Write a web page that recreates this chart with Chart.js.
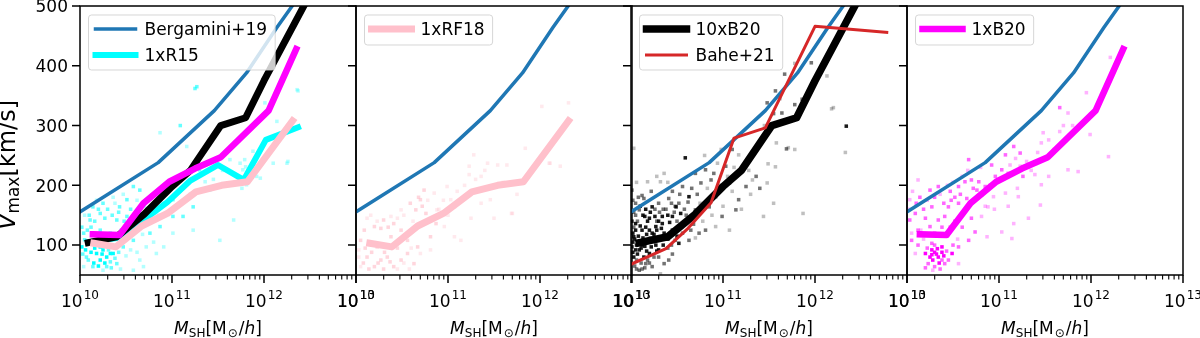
<!DOCTYPE html>
<html>
<head>
<meta charset="utf-8">
<script src="https://cdn.jsdelivr.net/npm/chart.js@4.4.1/dist/chart.umd.min.js"></script>
<style>
  html, body { margin: 0; padding: 0; background: #fff; }
  #wrap { position: relative; width: 1200px; height: 338px; }
  #wrap canvas { position: absolute; left: 0; top: 0; }
</style>
</head>
<body>
<div id="wrap"></div>
<script>
// masses are log10(M_SH / [Msun/h]), velocities are Vmax in km/s
const yTicks = [100, 200, 300, 400, 500];
const xDecades = [10, 11, 12, 13];

const bergM = [9.9, 10.85, 11.46, 11.81, 12.14, 12.5];
const bergV = [146, 238, 325, 388, 464, 542];

const b20x10M = [10.09, 10.40, 10.70, 11.0, 11.2, 11.53, 11.80, 12.0, 12.45];
const b20x10V = [104, 114, 152, 198, 225, 300, 313, 375, 505];

const b20x1M = [10.14, 10.43, 10.69, 10.97, 11.25, 11.53, 12.05, 12.35];
const b20x1V = [118, 117, 170, 206, 228, 247, 325, 428];

const r15M = [10.09, 10.40, 10.70, 10.95, 11.2, 11.5, 11.78, 12.02, 12.37];
const r15V = [105, 112, 143, 172, 208, 234, 209, 276, 297];

const rf18M = [10.15, 10.39, 10.67, 10.95, 11.26, 11.54, 11.82, 12.31];
const rf18V = [103, 97, 132, 153, 189, 200, 206, 308];

const baheM = [10.0, 10.38, 10.62, 10.87, 11.12, 11.46, 12.0, 12.78];
const baheV = [68, 94, 128, 171, 279, 296, 466, 456];

// histogram cells: [log10 M, Vmax, count level 1..3]
const r15Cells = [
  [11.27,365,2],[11.25,362,2],[12.36,360,1],[11.09,300,2],[10.87,288,1],[11.16,265,1],[11.63,243,1],
  [11.74,237,1],[11.80,231,1],[11.92,215,1],[11.30,226,2],[11.36,206,1],[11.41,192,1],[11.67,142,1],
  [11.23,125,1],[11.01,176,2],[10.83,187,2],[10.65,192,2],[10.58,198,2],[10.51,176,2],[10.43,164,2],
  [10.22,153,2],[10.11,142,2],[10.04,120,2],[10.02,97,3],[10.07,80,2],[10.18,86,3],[10.22,75,3],
  [10.29,64,2],[10.36,86,3],[10.40,69,2],[10.47,97,2],[10.58,108,2],[10.65,75,1],[10.69,64,1],
  [10.76,120,2],[10.87,131,2],[10.91,97,1],[11.01,120,1],[11.12,148,2],[11.23,164,2],[11.01,148,2],
  [10.22,125,2],[10.33,120,2],[10.25,170,2],[10.14,164,2],[10.51,148,2],[10.65,153,2],[10.80,164,2],
  [10.40,142,2],[10.05,109,2],[10.14,64,2],[10.25,58,1],[10.58,58,1],[11.52,108,1],[12.10,237,1],
  [12.25,237,1],[10.04,64,1],[10.45,125,2],[10.22,97,3],[10.33,86,3],[10.72,97,1],[10.83,86,1],
  [12.37,358,1],[12.01,338,1],[12.14,307,1],[12.26,240,1],[11.96,212,1],[11.88,257,1],[11.79,243,1],
  [11.77,226,1],[11.81,201,1],[11.76,195,1],[10.25,92,3],[10.29,80,3],[10.33,72,2],[10.18,100,2],
  [10.29,103,2],[10.12,130,2],[10.36,180,1],[10.47,185,1],[10.18,175,1],
  [10.03,85,2],[10.06,92,3],[10.09,75,2],[10.12,88,3],[10.15,70,3],[10.16,95,3],[10.20,65,3],
  [10.24,85,3],[10.27,70,3],[10.31,92,2],[10.34,62,2],[10.38,78,2],[10.42,88,2],[10.44,60,1],
  [10.50,82,1],[10.55,92,1],[10.62,88,1],[10.10,150,2],[10.16,140,2],[10.20,160,2],[10.27,145,2],
  [10.30,160,2],[10.35,150,2],[10.38,170,1],[10.42,155,2],[10.48,140,2],[10.55,160,2],[10.60,145,2],
  [10.62,175,1],[10.70,165,1],[10.75,150,1],[10.85,150,1],[10.90,170,1],[10.95,155,1],[10.05,150,1],
  [10.02,130,2],[10.08,125,2],[10.55,120,1],[10.68,118,1],[10.80,105,1],[11.10,195,1],[11.20,185,1],
  [11.45,210,1],[11.55,225,1],[11.60,200,1]
];

const rf18Cells = [
  [11.28,251,1],[11.84,262,1],[12.10,237,1],[11.64,234,1],[11.54,234,1],[11.36,215,1],[11.23,218,1],
  [11.14,176,1],[11.07,164,1],[11.36,170,1],[11.46,176,1],[11.70,153,1],[11.50,145,1],[11.25,145,1],
  [10.74,192,2],[10.85,187,1],[10.70,176,2],[10.65,159,2],[10.59,170,2],[10.76,153,2],[10.87,136,2],
  [11.03,176,1],[10.96,131,1],[11.07,114,1],[11.14,108,1],[10.81,114,2],[10.67,97,2],[10.56,108,2],
  [10.49,125,2],[10.38,114,2],[10.27,128,2],[10.20,131,2],[10.30,142,2],[10.41,136,2],[10.12,145,1],
  [10.09,125,2],[10.05,108,2],[10.12,80,2],[10.20,64,2],[10.27,75,2],[10.34,80,2],[10.41,64,2],
  [10.49,75,2],[10.56,86,2],[10.63,69,2],[10.70,86,1],[10.81,92,1],[10.34,97,2],[10.23,97,2],
  [10.03,92,1],[10.05,64,1],[10.88,159,1],[10.99,198,1],[11.43,237,1],[11.23,232,1],[10.49,159,1],
  [10.38,148,1],[12.02,332,1],[12.31,338,1],[12.22,232,1],[12.11,237,1],[11.69,153,1],
  [10.03,80,1],[10.08,70,2],[10.10,95,2],[10.14,60,2],[10.17,88,2],[10.24,70,2],[10.30,60,2],
  [10.31,88,2],[10.37,72,2],[10.45,60,1],[10.45,95,2],[10.52,70,1],[10.58,60,1],[10.60,95,1],
  [10.16,150,1],[10.23,140,1],[10.35,130,2],[10.45,145,1],[10.52,150,1],[10.62,140,1],[10.68,180,2],
  [10.72,165,2],[10.78,175,1],[10.90,160,1],[10.95,175,1],[11.00,150,1],[11.10,190,1],[11.18,200,1],
  [11.30,210,1],[11.40,225,1],[11.60,205,1],[11.75,185,1]
];

const b20x10Cells = [
  [10.59,246,3],[10.03,262,1],[10.01,192,2],[10.18,206,1],[10.32,206,1],[10.14,178,2],[10.41,178,2],
  [10.23,164,3],[10.09,159,2],[10.56,198,2],[10.70,220,2],[10.81,226,2],[10.87,209,2],[10.76,204,2],
  [10.63,181,3],[10.49,164,3],[10.54,153,3],[10.70,159,2],[10.34,148,3],[10.20,145,3],[10.05,136,3],
  [10.12,125,3],[10.27,131,3],[10.03,114,3],[10.01,97,3],[10.09,92,3],[10.20,86,3],[10.30,92,3],
  [10.16,69,2],[10.09,58,2],[10.23,64,2],[10.41,75,2],[10.52,103,3],[10.63,108,2],[10.74,120,2],
  [10.81,125,2],[10.92,131,1],[10.99,148,2],[11.07,125,1],[11.14,159,2],[11.17,176,2],[11.25,198,2],
  [11.32,209,1],[11.36,215,2],[11.07,204,2],[11.03,232,2],[10.94,237,1],[11.10,260,2],[11.17,251,1],
  [11.23,232,2],[10.92,181,2],[10.85,164,2],[10.45,125,3],[10.38,114,3],[10.23,108,3],[10.14,108,3],
  [10.34,136,3],[10.45,148,3],[10.59,136,2],[10.67,148,2],[10.20,125,3],[10.05,125,3],[10.25,80,2],
  [10.36,69,2],[10.32,52,1],[11.67,386,2],[11.96,405,2],[11.78,404,1],[11.57,358,2],[11.48,338,2],
  [11.64,321,2],[11.78,335,2],[11.86,344,2],[12.13,383,1],[12.18,328,1],[12.34,299,3],[11.58,271,1],
  [11.69,261,2],[11.78,260,1],[12.33,255,1],[11.49,236,1],[11.57,231,1],[11.40,195,2],[11.48,204,1],
  [11.55,170,1],[11.44,148,1],[11.87,153,1],[11.71,263,1],[12.20,330,1],[10.12,100,3],[10.27,100,3],
  [10.05,150,2],[10.16,160,3],[10.30,170,2],[10.45,190,2],[10.36,120,3],[10.48,108,2],[10.56,120,2],
  [10.03,80,3],[10.14,80,3],[10.40,95,2],
  [10.02,105,3],[10.04,110,3],[10.06,100,3],[10.08,115,3],[10.10,105,3],[10.02,88,3],[10.05,92,3],
  [10.07,85,3],[10.11,95,3],[10.13,112,3],[10.15,98,3],[10.17,118,3],[10.19,105,3],[10.21,112,2],
  [10.03,130,2],[10.07,140,2],[10.10,132,3],[10.02,120,3],[10.06,75,2],[10.11,70,2],[10.04,65,2],
  [10.18,75,2],[10.25,118,3],[10.28,140,2],[10.31,155,2],[10.33,128,3],[10.38,160,2],[10.42,138,3],
  [10.44,170,2],[10.47,155,2],[10.50,140,2],[10.53,185,2],[10.58,160,2],[10.60,150,2],[10.62,172,2],
  [10.66,195,2],[10.68,135,2],[10.72,185,2],[10.75,170,1],[10.78,140,1],[10.83,195,1],[10.88,150,1],
  [10.90,220,2],[10.96,200,1],[11.00,165,1],[11.05,215,1],[11.10,190,1],[11.20,160,1],[11.28,225,1],
  [11.30,185,1],[11.12,230,1],[10.98,260,1],[10.80,250,1],[10.12,183,2],[10.22,190,2],[10.28,215,1],
  [10.06,205,1],[10.40,205,1],[10.36,220,1],[10.02,175,2],[10.15,148,3],[10.26,148,3],[10.32,110,3],
  [10.44,100,2],[10.50,115,3],[10.55,130,2],[10.65,125,2],[10.70,112,1],[10.30,80,2],[10.45,85,2],
  [10.12,60,2],[11.55,320,2],[11.62,345,1],[11.45,300,1],
  [10.01,140,3],[10.03,155,2],[10.05,170,2],[10.08,180,2],[10.10,165,3],[10.13,150,3],[10.16,130,3],
  [10.18,140,3],[10.21,155,3],[10.23,120,3],[10.26,160,2],[10.28,125,3],[10.30,140,3],[10.35,160,2],
  [10.40,150,3],[10.43,120,2],[10.48,165,2],[10.52,170,2],[10.06,60,2],[10.15,62,2],[10.20,70,2],
  [10.28,90,3],[10.35,100,3],[10.40,110,3],[10.22,97,3],[10.17,90,3]
];

const b20x1Cells = [
  [11.66,330,2],[11.75,321,1],[11.99,285,1],[12.19,248,1],[11.86,223,1],[11.75,226,1],[11.48,288,1],
  [11.54,276,1],[11.66,290,1],[11.46,271,1],[11.16,265,2],[11.23,254,2],[11.07,251,2],[10.67,243,2],
  [10.92,234,2],[11.12,234,1],[11.23,232,1],[11.03,226,2],[11.39,218,1],[11.54,215,1],[11.26,215,2],
  [10.96,215,2],[10.78,206,2],[10.85,198,2],[10.70,209,2],[10.63,206,2],[10.56,198,2],[10.47,190,2],
  [10.34,198,2],[10.25,192,2],[10.12,209,1],[10.65,178,2],[10.81,184,2],[10.94,181,1],[11.07,187,1],
  [11.21,181,1],[11.46,201,1],[11.45,167,1],[11.32,145,1],[11.16,136,1],[11.03,122,1],[11.14,111,1],
  [10.87,114,1],[10.81,148,1],[10.88,164,1],[10.70,145,2],[10.74,122,2],[10.67,108,2],[10.56,97,2],
  [10.49,86,3],[10.34,80,3],[10.27,92,3],[10.20,86,3],[10.23,69,2],[10.30,64,2],[10.41,69,2],
  [10.56,69,1],[10.38,97,3],[10.27,103,2],[10.05,108,2],[10.09,86,1],[10.03,142,2],[10.09,153,2],
  [10.20,145,2],[10.34,142,2],[10.25,131,2],[10.12,125,2],[10.03,176,1],[10.27,164,2],[10.45,164,2],
  [10.56,170,2],[10.41,148,2],[10.76,192,2],[11.95,355,1],[12.21,414,1],[10.30,88,3],[10.38,75,2],
  [10.25,80,3],[10.28,75,3],[10.32,85,3],[10.35,70,3],[10.40,82,3],[10.43,90,2],[10.30,100,2],
  [10.22,95,2],[10.45,75,2],[10.36,60,2],[10.28,58,1],[10.50,100,2],[10.55,110,1],[10.60,130,2],
  [10.62,155,2],[10.52,140,2],[10.47,130,2],[10.58,185,2],[10.72,195,2],[10.80,230,1],[10.90,200,1],
  [11.00,210,1],[11.10,220,2],[11.18,245,1],[11.30,240,1],[11.35,225,1],[11.42,255,1],[11.60,260,1],
  [11.70,300,1],[11.80,300,1],[10.15,125,1],[10.10,170,2],[10.40,170,2],[10.48,175,2],[10.85,165,1],
  [10.95,160,1],[11.10,165,1],[11.20,195,1],[10.05,120,1],
  [10.02,160,1],[10.06,190,1],[10.14,180,2],[10.18,160,2],[10.22,175,1],[10.30,180,2],[10.36,185,1],
  [10.44,200,1],[10.50,205,1],[10.52,180,2],[10.60,215,1],[10.66,225,1],[10.38,130,2],[10.44,115,1],
  [10.30,120,2],[10.18,110,1],[10.12,100,2],[10.20,62,2],[10.33,94,3],[10.27,84,3],[10.38,88,3]
];

const panels = [
  {
    left: 80, cells: r15Cells, rgb: '0,255,255', alphas: [0.3, 0.6, 1], yLabels: true,
    lines: [
      { m: bergM, v: bergV, color: '#1f77b4', width: 3.5, label: 'Bergamini+19' },
      { m: r15M, v: r15V, color: '#00ffff', width: 6, label: '1xR15' },
      { m: b20x10M, v: b20x10V, color: '#000000', width: 7 },
      { m: b20x1M, v: b20x1V, color: '#ff00ff', width: 6.5 },
      { m: rf18M, v: rf18V, color: '#ffc0cb', width: 7 }
    ]
  },
  {
    left: 356, cells: rf18Cells, rgb: '255,192,203', alphas: [0.35, 0.65, 1],
    lines: [
      { m: bergM, v: bergV, color: '#1f77b4', width: 3.5 },
      { m: rf18M, v: rf18V, color: '#ffc0cb', width: 7, label: '1xRF18' }
    ]
  },
  {
    left: 631, cells: b20x10Cells, rgb: '0,0,0', alphas: [0.25, 0.55, 0.9],
    lines: [
      { m: bergM, v: bergV, color: '#1f77b4', width: 3.5 },
      { m: b20x10M, v: b20x10V, color: '#000000', width: 7.5, label: '10xB20' },
      { m: baheM, v: baheV, color: '#d62728', width: 3, label: 'Bahe+21' }
    ]
  },
  {
    left: 907, cells: b20x1Cells, rgb: '255,0,255', alphas: [0.3, 0.6, 1],
    lines: [
      { m: bergM, v: bergV, color: '#1f77b4', width: 3.5 },
      { m: b20x1M, v: b20x1V, color: '#ff00ff', width: 6.5, label: '1xB20' }
    ]
  }
];

const PW = 276, TOP = 6, BOTTOM = 275;
const FONT = '"DejaVu Sans", sans-serif';

function toPoints(m, v) {
  return m.map((e, i) => ({ x: Math.pow(10, e), y: v[i] }));
}

// draw a sequence of [text, size, italic, dy, gap] pieces, return total width
function runs(ctx, pieces, x, y, measureOnly) {
  let cx = x;
  pieces.forEach(p => {
    ctx.font = (p[2] ? 'italic ' : '') + p[1] + 'px ' + FONT;
    if (!measureOnly) ctx.fillText(p[0], cx, y + (p[3] || 0));
    cx += ctx.measureText(p[0]).width + (p[4] || 0);
  });
  return cx - x;
}

const axesPlugin = {
  id: 'axes',
  afterDraw(chart, args, o) {
    const { ctx, chartArea: a } = chart;
    const xs = chart.scales.x, ys = chart.scales.y;
    ctx.save();
    ctx.strokeStyle = '#000';
    ctx.fillStyle = '#000';

    // major ticks
    ctx.lineWidth = 1.5;
    ctx.beginPath();
    yTicks.forEach(v => {
      const p = ys.getPixelForValue(v);
      ctx.moveTo(a.left - 8, p); ctx.lineTo(a.left, p);
    });
    xDecades.forEach(e => {
      const p = xs.getPixelForValue(Math.pow(10, e));
      ctx.moveTo(p, a.bottom); ctx.lineTo(p, a.bottom + 8);
    });
    ctx.stroke();

    // minor ticks
    ctx.lineWidth = 1.1;
    ctx.beginPath();
    xDecades.slice(0, -1).forEach(e => {
      for (let k = 2; k <= 9; k++) {
        const p = xs.getPixelForValue(k * Math.pow(10, e));
        ctx.moveTo(p, a.bottom); ctx.lineTo(p, a.bottom + 4.5);
      }
    });
    ctx.stroke();

    ctx.lineWidth = 1.5;
    ctx.strokeRect(a.left, a.top, a.right - a.left, a.bottom - a.top);

    // x tick labels 10^n
    ctx.textBaseline = 'alphabetic';
    ctx.textAlign = 'left';
    xDecades.forEach(e => {
      const p = xs.getPixelForValue(Math.pow(10, e));
      const pcs = [['10', 17, false, 0, 1], [String(e), 12, false, -7.5]];
      const w = runs(ctx, pcs, 0, 0, true);
      runs(ctx, pcs, p - w / 2, 306.5);
    });

    // x axis label
    const xl = [['M', 17, true, 0], ['SH', 12, false, 2.5], ['[M', 17, false, 0, 1], ['\u2299', 12, false, 2.5, 1],
                ['/', 17, false, 0], ['h', 17, true, 0], [']', 17, false, 0]];
    const xw = runs(ctx, xl, 0, 0, true);
    runs(ctx, xl, (a.left + a.right) / 2 - xw / 2, 334);

    if (o.yLabels) {
      ctx.font = '17px ' + FONT;
      ctx.textAlign = 'right';
      yTicks.forEach(v => {
        ctx.fillText(String(v), a.left - 12, ys.getPixelForValue(v) + 6.2);
      });
      ctx.textAlign = 'left';
      const yl = [['V', 24, true, 0], ['max', 17, false, 3.5], ['[km/s]', 24, false, 0]];
      const yw = runs(ctx, yl, 0, 0, true);
      ctx.save();
      ctx.translate(15, 165);
      ctx.rotate(-Math.PI / 2);
      runs(ctx, yl, -yw / 2, 0);
      ctx.restore();
    }

    // legend
    const entries = o.entries;
    if (entries.length) {
      ctx.font = '17px ' + FONT;
      const tw = Math.max(...entries.map(en => ctx.measureText(en.label).width));
      const bx = a.left + 8.5, by = 15;
      const bw = 56 + tw + 8, bh = entries.length === 1 ? 30 : 55;
      ctx.beginPath();
      ctx.roundRect(bx, by, bw, bh, 3);
      ctx.fillStyle = 'rgba(255,255,255,0.8)';
      ctx.fill();
      ctx.strokeStyle = 'rgba(204,204,204,0.8)';
      ctx.lineWidth = 1;
      ctx.stroke();
      entries.forEach((en, i) => {
        const ly = by + 14 + i * 26;
        ctx.strokeStyle = en.color;
        ctx.lineWidth = en.width;
        ctx.lineCap = 'square';
        ctx.beginPath();
        ctx.moveTo(bx + 7, ly); ctx.lineTo(bx + 47, ly);
        ctx.stroke();
        ctx.fillStyle = '#000';
        ctx.fillText(en.label, bx + 56, ly + 6.2);
      });
    }
    ctx.restore();
  }
};

const wrap = document.getElementById('wrap');
panels.forEach((pn, idx) => {
  const cv = document.createElement('canvas');
  cv.width = 1200; cv.height = 338;
  wrap.appendChild(cv);

  const datasets = [];
  const n = pn.lines.length;
  pn.lines.forEach((ln, i) => {
    datasets.push({
      type: 'line',
      data: toPoints(ln.m, ln.v),
      borderColor: ln.color,
      borderWidth: ln.width,
      borderCapStyle: 'square',
      borderJoinStyle: 'round',
      pointRadius: 0,
      tension: 0,
      fill: false,
      clip: 0,
      order: n - i
    });
  });
  datasets.push({
    type: 'scatter',
    data: pn.cells.map(c => ({ x: Math.pow(10, c[0]), y: c[1] })),
    pointStyle: 'rect',
    pointRadius: 2.5,
    pointBorderWidth: 0,
    borderColor: 'rgba(0,0,0,0)',
    backgroundColor: pn.cells.map(c => 'rgba(' + pn.rgb + ',' + pn.alphas[c[2] - 1] + ')'),
    clip: 0,
    order: 50
  });

  new Chart(cv.getContext('2d'), {
    type: 'line',
    data: { datasets },
    options: {
      responsive: false,
      animation: false,
      devicePixelRatio: 1,
      events: [],
      layout: { padding: { left: pn.left, right: 1200 - pn.left - PW, top: TOP, bottom: 338 - BOTTOM } },
      scales: {
        x: { type: 'logarithmic', min: 1e10, max: 1e13, display: false },
        y: { type: 'linear', min: 50, max: 500, display: false }
      },
      plugins: {
        legend: { display: false },
        tooltip: { enabled: false },
        axes: {
          yLabels: !!pn.yLabels,
          entries: pn.lines.filter(l => l.label).map(l => ({ label: l.label, color: l.color, width: l.width }))
        }
      }
    },
    plugins: [axesPlugin]
  });
});
</script>
</body>
</html>
